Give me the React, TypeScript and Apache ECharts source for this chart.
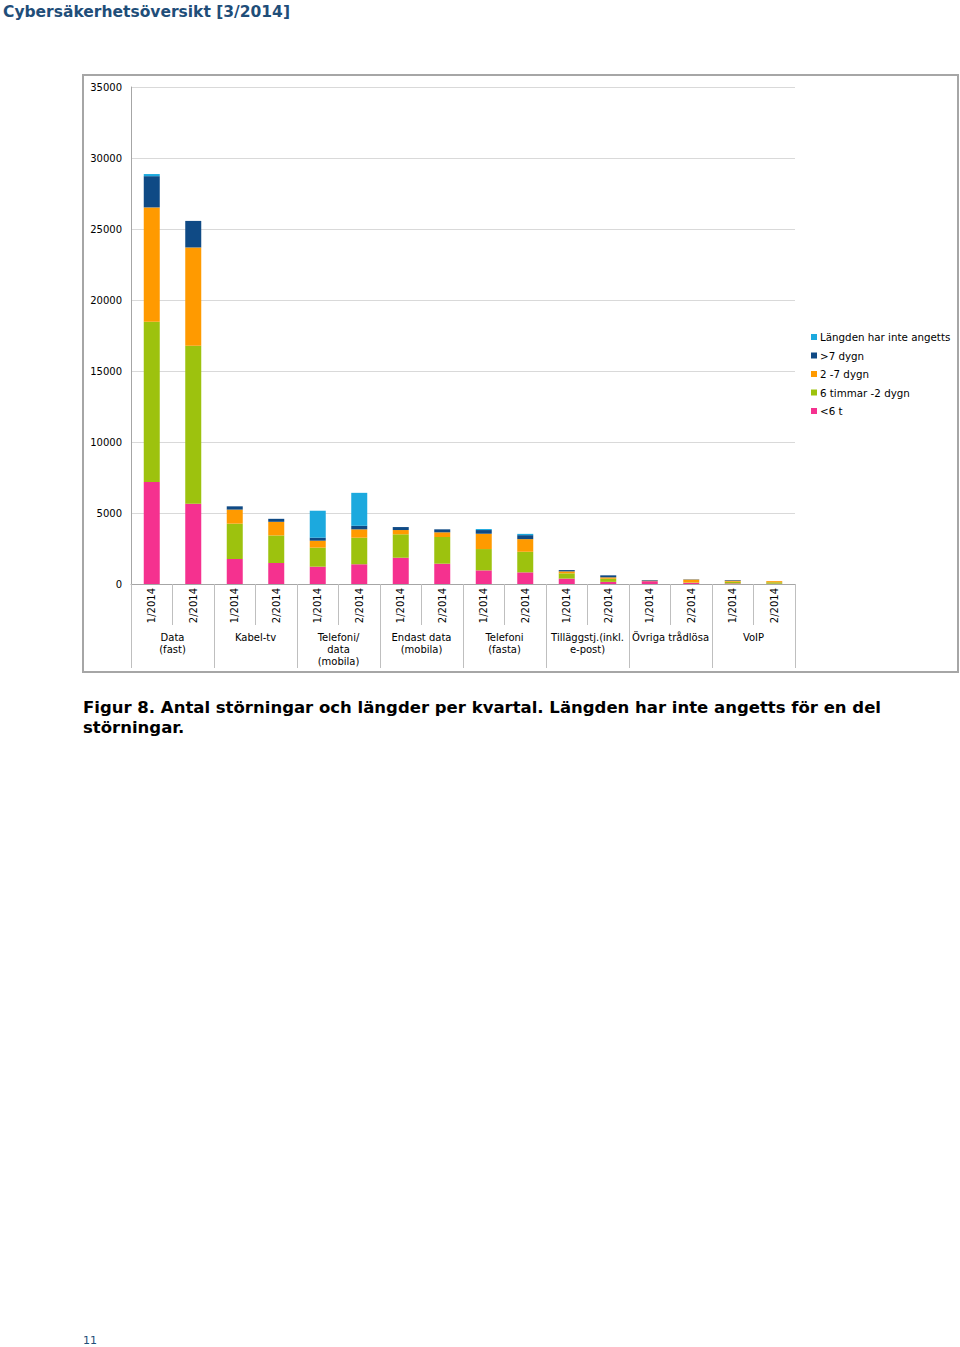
import React, { useEffect, useRef } from "react";
import * as echarts from "echarts";

const categories = [
  "1/2014", "2/2014", "1/2014", "2/2014", "1/2014", "2/2014", "1/2014", "2/2014",
  "1/2014", "2/2014", "1/2014", "2/2014", "1/2014", "2/2014", "1/2014", "2/2014",
];
const groups = [
  "Data\n(fast)",
  "Kabel-tv",
  "Telefoni/\ndata\n(mobila)",
  "Endast data\n(mobila)",
  "Telefoni\n(fasta)",
  "Tilläggstj.(inkl.\ne-post)",
  "Övriga trådlösa",
  "VoIP",
];
const yTicks = { min: 0, max: 35000, interval: 5000 };

const under6h = [7180, 5650, 1760, 1480, 1220, 1390, 1850, 1430, 960, 820, 380, 150, 200, 80, 40, 20];
const h6to2d = [11290, 11120, 2490, 1940, 1340, 1870, 1650, 1880, 1500, 1450, 370, 220, 20, 30, 120, 100];
const d2to7 = [8050, 6930, 990, 960, 490, 590, 300, 330, 1080, 890, 140, 100, 20, 200, 80, 80];
const over7d = [2200, 1870, 230, 210, 210, 250, 210, 210, 260, 280, 90, 140, 40, 20, 40, 0];
const unknown = [150, 0, 0, 0, 1900, 2320, 0, 0, 70, 90, 0, 0, 0, 0, 0, 0];

const seriesDefs = [
  { name: "<6 t", data: under6h, color: "#F5318F" },
  { name: "6 timmar -2 dygn", data: h6to2d, color: "#9DC20E" },
  { name: "2 -7 dygn", data: d2to7, color: "#FF9A00" },
  { name: ">7 dygn", data: over7d, color: "#0F4A85" },
  { name: "Längden har inte angetts", data: unknown, color: "#1CA9DE" },
];

const FONT = "DejaVu Sans, Verdana, sans-serif";

export default function App() {
  const ref = useRef<HTMLDivElement>(null);
  useEffect(() => {
    document.body.style.margin = "0";
    const chart = echarts.init(ref.current!, null, { renderer: "svg" });
    chart.setOption({
      animation: false,
      backgroundColor: "#ffffff",
      textStyle: { fontFamily: FONT },
      title: [
        {
          text: "Cybersäkerhetsöversikt [3/2014]",
          left: 3,
          top: 4,
          padding: 0,
          textStyle: { fontFamily: FONT, fontSize: 15.5, fontWeight: "bold", color: "#1F4E79" },
        },
        {
          text: "Figur 8. Antal störningar och längder per kvartal. Längden har inte angetts för en del\nstörningar.",
          left: 83,
          top: 697,
          padding: 0,
          textStyle: { fontFamily: FONT, fontSize: 16.5, fontWeight: "bold", color: "#000000", lineHeight: 20 },
        },
        {
          text: "11",
          left: 83,
          top: 1335,
          padding: 0,
          textStyle: { fontFamily: FONT, fontSize: 11, fontWeight: "normal", color: "#1F4E79" },
        },
      ],
      graphic: [
        {
          type: "rect",
          shape: { x: 83, y: 75, width: 875, height: 597 },
          style: { fill: "none", stroke: "#a6a6a6", lineWidth: 2 },
          silent: true,
        },
      ],
      legend: {
        orient: "vertical",
        left: 811,
        top: 331,
        itemWidth: 6,
        itemHeight: 6,
        itemGap: 6.5,
        icon: "rect",
        padding: 0,
        data: seriesDefs.map((s) => s.name).reverse(),
        textStyle: { fontFamily: FONT, fontSize: 10.3, color: "#000", lineHeight: 12, padding: [0, 0, 0, -2] },
      },
      grid: { left: 131, right: 165, top: 87, bottom: 763, containLabel: false },
      xAxis: [
        {
          type: "category",
          data: categories,
          position: "bottom",
          axisLine: { show: true, lineStyle: { color: "#a6a6a6", width: 1 } },
          axisTick: { show: true, alignWithLabel: false, length: 41, lineStyle: { color: "#bfbfbf" } },
          axisLabel: { rotate: 90, fontSize: 10, color: "#000", margin: 4, fontFamily: FONT, interval: 0 },
        },
        {
          type: "category",
          data: groups,
          position: "bottom",
          axisLine: { show: false },
          axisTick: { show: true, alignWithLabel: false, length: 84, lineStyle: { color: "#bfbfbf" } },
          axisLabel: { fontSize: 10, color: "#000", margin: 47, lineHeight: 12, fontFamily: FONT, interval: 0 },
        },
      ],
      yAxis: {
        type: "value",
        min: yTicks.min,
        max: yTicks.max,
        interval: yTicks.interval,
        axisLine: { show: true, lineStyle: { color: "#a6a6a6" } },
        axisTick: { show: false },
        axisLabel: { fontSize: 10, color: "#000", margin: 9, fontFamily: FONT, formatter: (v: number) => String(v) },
        splitLine: { lineStyle: { color: "#d9d9d9" } },
      },
      series: seriesDefs.map((s) => ({
        name: s.name,
        type: "bar",
        stack: "total",
        xAxisIndex: 0,
        barWidth: 16,
        data: s.data,
        itemStyle: { color: s.color },
      })),
    });
    return () => chart.dispose();
  }, []);
  return <div ref={ref} style={{ width: 960, height: 1347 }} />;
}
